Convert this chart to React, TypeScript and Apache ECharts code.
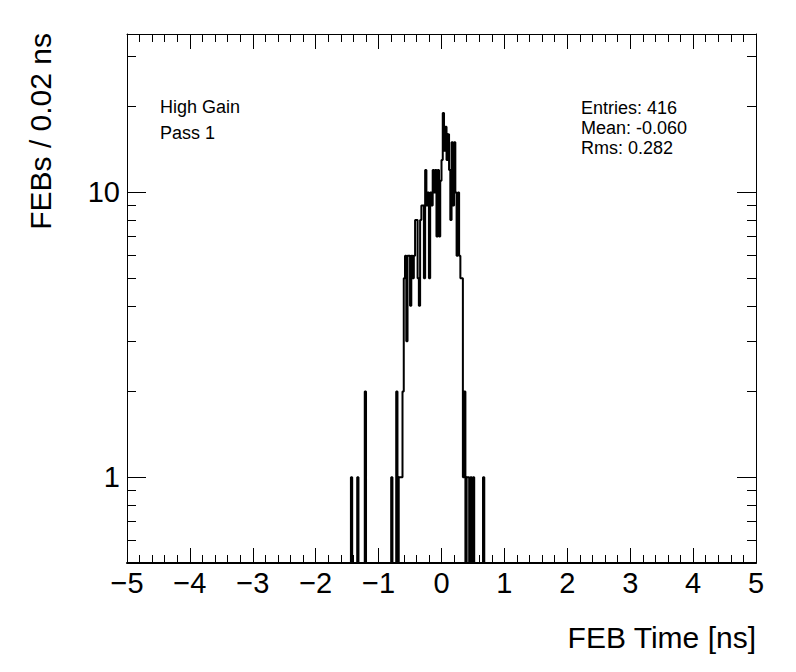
import React, { useEffect, useRef } from "react";
import * as echarts from "echarts";

// Histogram: FEB time, bin width 0.02 ns
const binWidth = 0.02;
const rangeStart = -1.6; // first bin edge of the drawn binning
const rangeBins = 120; // up to 0.80 ns

// Main body of the distribution, consecutive bins starting at mainFirstEdge
const mainFirstEdge = -0.6;
const mainCounts = [
  5, 6, 3, 6, 6, 4, 6, 5, 6, 8,
  8, 5, 4, 8, 9, 9, 5, 12, 9, 10,
  5, 10, 9, 12, 10, 12, 7, 12, 7, 11,
  13, 19, 14, 17, 13, 16, 12, 8, 15, 9,
  15, 10, 6, 10, 6, 5, 5,
];

// Isolated bins in the tails
const tailEdges = [-1.44, -1.34, -1.22, -0.8, -0.72, -0.68, -0.66, -0.64, -0.62, 0.34, 0.36, 0.4, 0.42, 0.46, 0.5, 0.66];
const tailCounts = [1, 1, 2, 1, 2, 1, 1, 1, 2, 1, 2, 1, 1, 1, 1, 1];

const xTickLabels = ["−5", "−4", "−3", "−2", "−1", "0", "1", "2", "3", "4", "5"];
const yMajorTicks = [1, 10];
const yMinorTicks = [0.6, 0.7, 0.8, 0.9, 2, 3, 4, 5, 6, 7, 8, 9, 20, 30];

const statsLines = ["Entries: 416", "Mean: -0.060", "Rms: 0.282"];
const infoLines = ["High Gain", "Pass 1"];

const FONT = "'Liberation Sans', Arial, Helvetica, sans-serif";

function buildSteps(): number[][] {
  const dense: number[] = new Array(rangeBins).fill(0);
  mainCounts.forEach((c, i) => {
    const idx = Math.round((mainFirstEdge + i * binWidth - rangeStart) / binWidth);
    dense[idx] = c;
  });
  tailEdges.forEach((e, i) => {
    const idx = Math.round((e - rangeStart) / binWidth);
    dense[idx] = tailCounts[i];
  });
  const pts: number[][] = [];
  dense.forEach((c, i) => {
    pts.push([rangeStart + i * binWidth, c > 0 ? c : 0.01]);
  });
  pts.push([rangeStart + rangeBins * binWidth, 0.01]);
  return pts;
}

export default function App() {
  const ref = useRef<HTMLDivElement>(null);
  useEffect(() => {
    if (!ref.current) return;
    const chart = echarts.init(ref.current, undefined, { renderer: "svg" });
    const black = "#000";
    const xBase = {
      type: "value" as const,
      min: -5,
      max: 5,
      interval: 1,
      splitLine: { show: false },
      minorSplitLine: { show: false },
    };
    const yBase = {
      type: "log" as const,
      logBase: 10,
      min: 0.5,
      max: 36,
      splitLine: { show: false },
      minorTick: { show: false },
      minorSplitLine: { show: false },
    };
    chart.setOption({
      animation: false,
      backgroundColor: "#fff",
      grid: { left: 127, right: 40, top: 34, bottom: 109, containLabel: false },
      xAxis: [
        {
          ...xBase,
          position: "bottom",
          axisLine: { show: true, onZero: false, lineStyle: { color: black, width: 2 } },
          axisTick: { show: true, inside: true, length: 15, lineStyle: { color: black, width: 1 } },
          minorTick: { show: true, splitNumber: 5, length: 8, lineStyle: { color: black, width: 1 } },
          axisLabel: {
            show: true,
            margin: 5,
            color: black,
            fontSize: 29,
            fontFamily: FONT,
            formatter: (v: number) => xTickLabels[Math.round(v + 5)] ?? "",
          },
        },
        {
          ...xBase,
          position: "top",
          axisLine: { show: true, onZero: false, lineStyle: { color: black, width: 1 } },
          axisTick: { show: true, inside: true, length: 15, lineStyle: { color: black, width: 1 } },
          minorTick: { show: true, splitNumber: 5, length: 8, lineStyle: { color: black, width: 1 } },
          axisLabel: { show: false },
        },
      ],
      yAxis: [
        {
          ...yBase,
          position: "left",
          axisLine: { show: true, onZero: false, lineStyle: { color: black, width: 1 } },
          axisTick: { show: true, inside: true, length: 19, customValues: yMajorTicks, lineStyle: { color: black, width: 1 } },
          axisLabel: {
            show: true,
            customValues: yMajorTicks,
            margin: 7,
            color: black,
            fontSize: 29,
            fontFamily: FONT,
            formatter: (v: number) => String(Math.round(v)),
          },
        },
        {
          ...yBase,
          position: "left",
          axisLine: { show: false, onZero: false },
          axisTick: { show: true, inside: true, length: 9, customValues: yMinorTicks, lineStyle: { color: black, width: 1 } },
          axisLabel: { show: false },
        },
        {
          ...yBase,
          position: "right",
          axisLine: { show: true, onZero: false, lineStyle: { color: black, width: 1 } },
          axisTick: { show: true, inside: true, length: 19, customValues: yMajorTicks, lineStyle: { color: black, width: 1 } },
          axisLabel: { show: false },
        },
        {
          ...yBase,
          position: "right",
          axisLine: { show: false, onZero: false },
          axisTick: { show: true, inside: true, length: 9, customValues: yMinorTicks, lineStyle: { color: black, width: 1 } },
          axisLabel: { show: false },
        },
      ],
      series: [
        {
          type: "line",
          xAxisIndex: 0,
          yAxisIndex: 0,
          step: "end",
          data: buildSteps(),
          symbol: "none",
          showSymbol: false,
          clip: true,
          lineStyle: { color: black, width: 2 },
          silent: true,
        },
      ],
      graphic: [
        ...infoLines.map((t, i) => ({
          type: "text",
          x: 160,
          y: 107 + i * 26,
          style: {
            text: t,
            fill: black,
            fontSize: 18,
            fontFamily: FONT,
            align: "left",
            verticalAlign: "middle",
            textAlign: "left",
            textVerticalAlign: "middle",
          },
        })),
        ...statsLines.map((t, i) => ({
          type: "text",
          x: 581,
          y: 108 + i * 20,
          style: {
            text: t,
            fill: black,
            fontSize: 18,
            fontFamily: FONT,
            align: "left",
            verticalAlign: "middle",
            textAlign: "left",
            textVerticalAlign: "middle",
          },
        })),
        {
          type: "text",
          x: 40,
          y: 33,
          rotation: Math.PI / 2,
          style: {
            text: "FEBs / 0.02 ns",
            fill: black,
            fontSize: 30,
            fontFamily: FONT,
            align: "right",
            verticalAlign: "middle",
            textAlign: "right",
            textVerticalAlign: "middle",
          },
        },
        {
          type: "text",
          x: 756,
          y: 637,
          style: {
            text: "FEB Time [ns]",
            fill: black,
            fontSize: 30,
            fontFamily: FONT,
            align: "right",
            verticalAlign: "middle",
            textAlign: "right",
            textVerticalAlign: "middle",
          },
        },
      ],
    });
    return () => chart.dispose();
  }, []);
  return <div ref={ref} style={{ position: "fixed", left: 0, top: 0, width: 796, height: 672, background: "#fff" }} />;
}
